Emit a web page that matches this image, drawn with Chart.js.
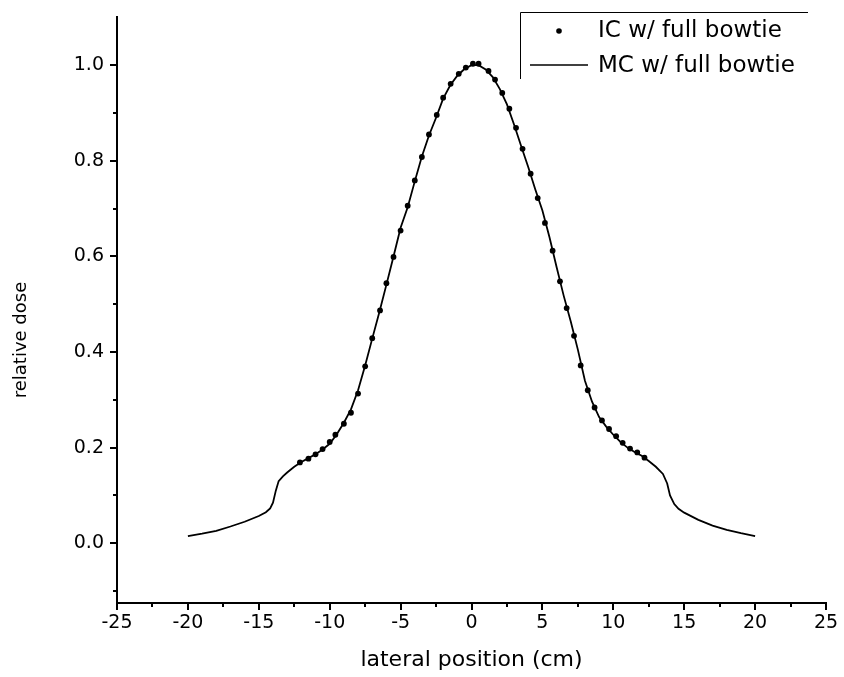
<!DOCTYPE html>
<html><head><meta charset="utf-8">
<script src="https://cdn.jsdelivr.net/npm/chart.js@4.4.0/dist/chart.umd.min.js"></script>
<style>html,body{margin:0;padding:0;background:#fff;}#wrap{width:844px;height:677px;}</style>
</head><body><div id="wrap"><canvas id="c" width="844" height="677"></canvas></div>
<script>
// MC simulation curve
const mcX = [-20,-19,-18,-17,-16,-15,-14.5,-14.2,-14,-13.8,-13.6,-13.3,-13,-12.5,-12,-11.5,-11,-10.5,-10,-9.5,-9,-8.5,-8,-7.5,-7,-6.5,-6,-5.5,-5,-4.5,-4,-3.5,-3,-2.5,-2,-1.5,-1,-0.5,0,0.5,1,1.5,2,2.5,3,3.5,4,4.5,5,5.5,6,6.5,7,7.5,8,8.5,9,9.5,10,10.5,11,11.5,12,12.5,13,13.5,13.8,14,14.3,14.6,15,16,17,18,19,20];
const mcY = [0.015,0.020,0.026,0.035,0.045,0.057,0.065,0.073,0.085,0.110,0.130,0.140,0.148,0.160,0.170,0.178,0.186,0.196,0.208,0.228,0.252,0.280,0.320,0.372,0.428,0.483,0.541,0.600,0.660,0.703,0.757,0.809,0.853,0.890,0.930,0.958,0.978,0.992,1.000,1.000,0.991,0.975,0.950,0.918,0.876,0.831,0.787,0.740,0.696,0.640,0.578,0.518,0.464,0.405,0.340,0.296,0.264,0.244,0.227,0.212,0.200,0.191,0.183,0.172,0.160,0.145,0.125,0.100,0.082,0.072,0.064,0.049,0.037,0.028,0.021,0.015];
// IC measurements
const icX = [-12.1,-11.5,-11.0,-10.5,-10.0,-9.6,-9.0,-8.5,-8.0,-7.5,-7.0,-6.45,-6.0,-5.5,-5.0,-4.5,-4.0,-3.5,-3.0,-2.45,-2.0,-1.47,-0.9,-0.4,0.1,0.5,1.2,1.66,2.17,2.67,3.14,3.6,4.17,4.67,5.18,5.72,6.24,6.71,7.23,7.7,8.2,8.68,9.2,9.7,10.2,10.66,11.18,11.69,12.2];
const icY = [0.169,0.177,0.186,0.197,0.212,0.227,0.250,0.273,0.313,0.370,0.429,0.487,0.544,0.599,0.654,0.706,0.759,0.808,0.855,0.896,0.932,0.961,0.982,0.995,1.003,1.003,0.988,0.970,0.942,0.909,0.869,0.825,0.773,0.722,0.670,0.612,0.548,0.492,0.434,0.372,0.320,0.284,0.257,0.239,0.224,0.210,0.198,0.190,0.179];
const seriesLabels = ['IC w/ full bowtie', 'MC w/ full bowtie'];
const xMajorTicks = [-25,-20,-15,-10,-5,0,5,10,15,20,25];
const xMinorTicks = [-22.5,-17.5,-12.5,-7.5,-2.5,2.5,7.5,12.5,17.5,22.5];
const yMajorTicks = [0,0.2,0.4,0.6,0.8,1.0];
const yMinorTicks = [-0.1,0.1,0.3,0.5,0.7,0.9];
const xTitle = 'lateral position (cm)';
const yTitle = 'relative dose';

const FONT = "'DejaVu Sans', 'Liberation Sans', Arial, sans-serif";
Chart.defaults.font.family = FONT;
Chart.defaults.color = '#000';

const minorTicks = {
  id: 'minorTicks',
  afterDraw(chart) {
    const ctx = chart.ctx, xs = chart.scales.x, ys = chart.scales.y;
    ctx.save();
    ctx.strokeStyle = '#000';
    ctx.lineWidth = 2;
    ctx.beginPath();
    xMinorTicks.forEach(v => { const p = Math.round(xs.getPixelForValue(v)); ctx.moveTo(p, xs.top); ctx.lineTo(p, xs.top + 4); });
    yMinorTicks.forEach(v => { const p = Math.round(ys.getPixelForValue(v)); ctx.moveTo(ys.right, p); ctx.lineTo(ys.right - 4, p); });
    ctx.stroke();
    // y axis title
    ctx.fillStyle = '#000';
    ctx.font = "18px " + FONT;
    ctx.translate(21, 340);
    ctx.rotate(-Math.PI / 2);
    ctx.textAlign = 'center';
    ctx.textBaseline = 'middle';
    ctx.fillText(yTitle, 0, 0);
    ctx.restore();
  }
};

const boxLegend = {
  id: 'boxLegend',
  afterDraw(chart) {
    const ctx = chart.ctx;
    const ds = chart.data.datasets;
    ctx.save();
    ctx.strokeStyle = '#000';
    ctx.lineWidth = 1;
    ctx.beginPath();
    ctx.moveTo(520.5, 79); ctx.lineTo(520.5, 12.5); ctx.lineTo(808, 12.5);
    ctx.stroke();
    ctx.fillStyle = '#000';
    ctx.beginPath(); ctx.arc(559, 31, 2.8, 0, Math.PI * 2); ctx.fill();
    ctx.lineWidth = 1.3;
    ctx.beginPath(); ctx.moveTo(530, 65); ctx.lineTo(588, 65); ctx.stroke();
    ctx.font = "23px " + FONT;
    ctx.textBaseline = 'middle';
    ctx.textAlign = 'left';
    ctx.fillText(ds[0].label, 598, 31);
    ctx.fillText(ds[1].label, 598, 66);
    ctx.restore();
  }
};

new Chart(document.getElementById('c'), {
  type: 'scatter',
  data: {
    datasets: [
      { label: seriesLabels[0], data: icX.map((x, i) => ({x, y: icY[i]})), showLine: false,
        pointRadius: 2.9, pointStyle: 'circle', pointBackgroundColor: '#000', pointBorderWidth: 0, borderColor: '#000' },
      { label: seriesLabels[1], data: mcX.map((x, i) => ({x, y: mcY[i]})), showLine: true,
        pointRadius: 0, borderColor: '#000', borderWidth: 1.8, tension: 0 }
    ]
  },
  options: {
    responsive: false, animation: false, devicePixelRatio: 1,
    layout: { padding: { left: 0, right: 18, top: 8, bottom: 0 } },
    plugins: { legend: { display: false }, tooltip: { enabled: false } },
    scales: {
      x: {
        type: 'linear', position: 'bottom', min: -25, max: 25,
        afterBuildTicks: s => { s.ticks = xMajorTicks.map(v => ({value: v})); },
        afterFit: s => { s.height = 74; },
        ticks: { font: { size: 19 }, color: '#000', padding: 2, maxRotation: 0, autoSkip: false, callback: v => String(v) },
        grid: { display: true, drawOnChartArea: false, drawTicks: true, tickLength: 7, color: '#000', lineWidth: 2 },
        border: { display: true, color: '#000', width: 2 },
        title: { display: true, text: xTitle, font: { size: 22 }, color: '#000', padding: { top: 0, bottom: 4 } }
      },
      y: {
        type: 'linear', position: 'left', min: -0.125, max: 1.1,
        afterBuildTicks: s => { s.ticks = yMajorTicks.map(v => ({value: v})); },
        afterFit: s => { s.width = 117; },
        ticks: { font: { size: 19 }, color: '#000', padding: 6, autoSkip: false, callback: v => Number(v).toFixed(1) },
        grid: { display: true, drawOnChartArea: false, drawTicks: true, tickLength: 7, color: '#000', lineWidth: 2 },
        border: { display: true, color: '#000', width: 2 }
      }
    }
  },
  plugins: [minorTicks, boxLegend]
});
</script></body></html>
